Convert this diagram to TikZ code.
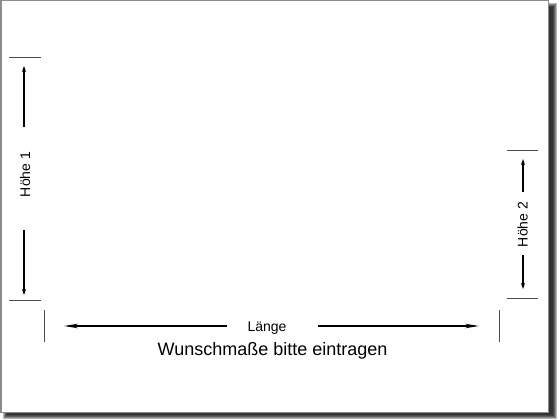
\documentclass[tikz,border=0pt]{standalone}
\usepackage{fontspec}
\setmainfont{Liberation Sans}
\usetikzlibrary{arrows.meta,positioning}
\tikzset{
    %Define standard arrow tip
    >={Stealth[length=6pt,width=4pt]},
    %Define style for measure lines
    masslinie/.style={
           ->,
           draw=black,
           line width=1.1pt},
    langlinie/.style={
           -{Stealth[length=14pt,width=4.5pt]},
           draw=black,
           line width=1.1pt},
    %Define style for end marks
    strich/.style={
           draw=black!70,
           line width=1pt},
    %Define style for labels
    beschriftung/.style={
           font=\fontsize{14}{16}\selectfont,
           inner sep=0pt,
           text centered},
    titel/.style={
           font=\fontsize{18}{21}\selectfont,
           inner sep=0pt,
           text centered}
}
\begin{document}
\begin{tikzpicture}[x=1pt,y=-1pt]
\useasboundingbox (0,0) rectangle (560,420);
% shadow and sheet
\foreach \k in {0,1,2,3,4}
  \fill[black,opacity=0.28] (3+\k,3+\k) rectangle (557-\k,419-\k);
\draw[black!45,line width=1.5pt,fill=white] (0.75,0.75) rectangle (548.5,412.5);
% end marks
\draw[strich] (9,58) -- (41,58);
\draw[strich] (9,300) -- (41,300);
\draw[strich] (507,150) -- (538,150);
\draw[strich] (507,298) -- (538,298);
\draw[strich] (44,310) -- (44,342);
\draw[strich] (499,310) -- (499,342);
% labels
\node[beschriftung,rotate=90](hoehe1) at (25,174.5){Höhe 1};
\node[beschriftung,rotate=90](hoehe2) at (522.5,224.5){Höhe 2};
\node[beschriftung,anchor=base](laenge) at (267,331){Länge};
\node[titel,anchor=base](wunsch) at (272.5,355.5){Wunschmaße bitte eintragen};
% arrow ends
\coordinate (h1a) at (24,127);
\coordinate (h1o) at (24,66);
\coordinate (h1b) at (24,230);
\coordinate (h1u) at (24,295);
\coordinate (h2a) at (523,192);
\coordinate (h2o) at (523,159);
\coordinate (h2b) at (523,255);
\coordinate (h2u) at (523,289);
\coordinate (la) at (227,326);
\coordinate (ll) at (64,326);
\coordinate (lb) at (318,326);
\coordinate (lr) at (479,326);
\draw[masslinie] (h1a) -- (h1o);
\draw[masslinie] (h1b) -- (h1u);
\draw[masslinie] (h2a) -- (h2o);
\draw[masslinie] (h2b) -- (h2u);
\draw[langlinie] (la) -- (ll);
\draw[langlinie] (lb) -- (lr);
\end{tikzpicture}
\end{document}
